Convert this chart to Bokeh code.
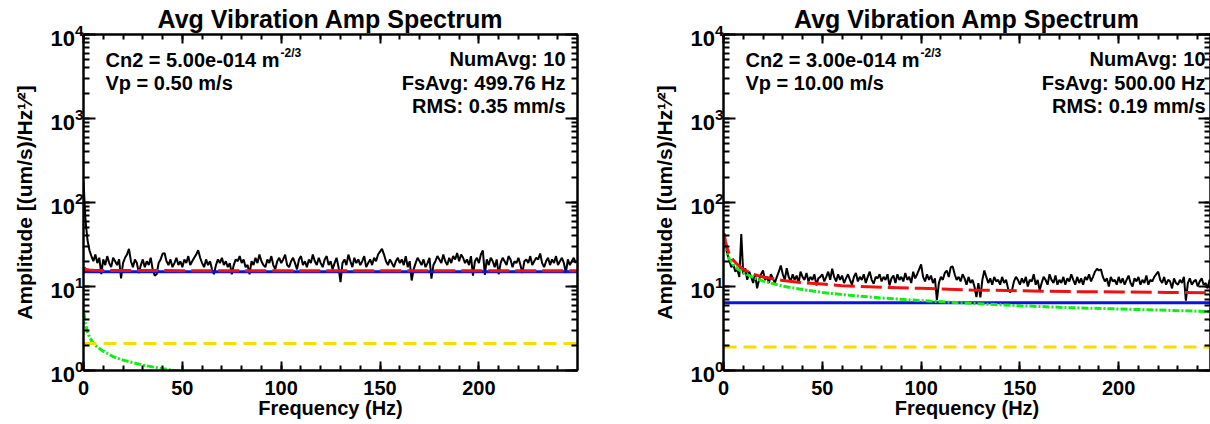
import numpy as np
from bokeh.plotting import figure
from bokeh.models import (Label, LinearAxis, LogAxis, SingleIntervalTicker,
                          LogTicker, Range1d)
from bokeh.layouts import row
from bokeh.embed import file_html
from bokeh.resources import INLINE

# ---------------- data ----------------
freq = list(range(250))  # Hz, 1 Hz bins

left_black = [
    180, 62, 36, 27, 23, 20, 24, 19, 22, 14,
    21, 18, 23, 19, 17, 22, 20, 18, 21, 12.5,
    19, 22, 24, 28, 20, 17, 21, 19, 14.5, 18,
    21, 17, 20, 18, 22, 16, 13.5, 14, 19, 21,
    24.5, 25, 20, 18, 21, 17, 19, 22, 18, 20,
    17, 21, 19, 23, 18, 20, 22, 24, 27, 22,
    19, 17, 21, 18, 20, 16, 14, 18, 21, 19,
    22, 18, 20, 17, 19, 14, 18, 21, 20, 23,
    19, 21, 17, 18, 14, 20, 18, 22, 19, 24,
    20, 18, 17, 21, 19, 23, 18, 16, 20, 22,
    19, 21, 24, 18, 17, 20, 22, 19, 16, 21,
    23, 18, 20, 17, 21, 19, 24, 20, 18, 22,
    19, 17, 21, 23, 18, 20, 16, 19, 22, 17,
    11.3, 19, 21, 18, 24, 20, 17, 22, 19, 21,
    18, 20, 23, 17, 19, 21, 18, 22, 20, 24,
    26, 28, 24, 20, 18, 21, 19, 17, 20, 22,
    19, 21, 18, 23, 17, 20, 11.8, 16, 19, 22,
    20, 18, 21, 17, 19, 22, 12.4, 18, 20, 23,
    21, 19, 24, 20, 18, 22, 19, 23, 21, 25,
    20, 24, 22, 19, 21, 18, 23, 13.5, 20, 22,
    19, 24, 26.8, 13.8, 21, 18, 22, 20, 17, 21,
    14, 19, 22, 20, 18, 23, 21, 17, 20, 19,
    22, 18, 14.5, 20, 21, 19, 23, 18, 20, 22,
    21, 24.7, 19, 17, 20, 22, 18, 21, 19, 23,
    18, 20, 22, 19, 14.5, 21, 18, 20, 22, 19,
]

right_black = [
    38, 30, 24, 20, 17, 18, 15, 16, 13, 42,
    14, 16.5, 12, 15, 13, 11, 14, 9.5, 12, 14,
    15.5, 12, 13, 11, 14, 12.5, 11, 13, 15, 17.8,
    14, 12, 16.5, 13, 11.5, 14, 12, 13.5, 11, 15,
    13, 12, 14.5, 11.5, 13, 12, 14, 10.3, 12.5, 13,
    14, 11.5, 13, 15, 12, 16.3, 13, 11.5, 14, 12,
    13.5, 11, 12.5, 14, 12, 10.5, 13, 14.5, 11.5, 13,
    12, 14, 11, 13, 15, 12, 10.8, 13, 12.5, 14,
    11.5, 13, 12, 14, 10.3, 12.5, 13.5, 11, 14, 12,
    13, 11.5, 14.5, 12, 13, 11, 15, 12.5, 14, 16,
    18.3, 13, 11.5, 14, 12, 13.5, 11, 12.5, 6.9, 11,
    13, 12, 14.5, 15.5, 13, 17, 17.3, 14, 12, 13,
    11.5, 14, 12.5, 10.5, 13, 11, 12, 10, 7.5, 11,
    7.4, 12, 15.5, 13, 11, 12.5, 10.5, 13, 11.5, 12,
    10.5, 13, 11, 12, 9.5, 8.5, 9, 11.5, 13, 12,
    10.5, 12.5, 11, 13, 10, 12, 11.5, 14, 10.5, 12,
    9, 11, 13, 12, 10.5, 14, 12, 11, 13.5, 10.5,
    12, 11, 13, 10.5, 12.5, 11.5, 14, 12, 10.5, 13,
    11, 12.5, 10.5, 13, 12, 14, 11.5, 13, 15, 16.3,
    15.5, 16, 13, 11.5, 12.5, 10, 13, 11.5, 12, 10.5,
    13, 11, 12.5, 10.5, 12, 13.5, 11, 10, 12.5, 11.5,
    13, 10.5, 12, 11, 13.5, 10.5, 12, 11.5, 13, 14,
    15, 12, 11, 13, 10.5, 12, 11.5, 9.5, 12.5, 11,
    10.5, 12, 11, 13, 6.8, 11, 12.5, 10.5, 11.5, 12,
    10, 11.5, 12.5, 10.5, 11, 9.5, 12, 10.5, 11.5, 10,
]

# model curves (read at a few frequencies)
left_red_f = [0.3, 1, 2, 3, 5, 10, 20, 50, 100, 150, 200, 250]
left_red_v = [16.8, 16.1, 15.8, 15.7, 15.6, 15.5, 15.5, 15.45, 15.45, 15.45, 15.45, 15.45]
left_blue_f = [0, 250]
left_blue_v = [15.0, 15.0]
left_green_f = [0.3, 0.5, 1, 2, 3, 5, 7, 10, 15, 20, 30, 40, 50, 60]
left_green_v = [4.8, 4.5, 3.6, 2.9, 2.5, 2.1, 1.9, 1.7, 1.46, 1.33, 1.16, 1.05, 0.97, 0.92]
left_yellow_f = [0, 250]
left_yellow_v = [2.1, 2.1]

right_red_f = [0.3, 1, 2, 3, 5, 7, 10, 15, 20, 30, 40, 50, 60, 80, 100, 125, 150, 175, 200, 225, 250]
right_red_v = [43, 34, 28, 24, 20.5, 18.3, 16, 14, 13, 11.8, 11.1, 10.7, 10.2, 9.8, 9.5, 9.1, 8.9, 8.7, 8.6, 8.5, 8.4]
right_blue_f = [0, 250]
right_blue_v = [6.4, 6.4]
right_green_f = [0.8, 1, 2, 3, 5, 7, 10, 15, 20, 30, 40, 50, 60, 80, 100, 125, 150, 175, 200, 225, 250]
right_green_v = [32, 29, 24.5, 21, 18, 16.3, 14.6, 12.8, 11.6, 10.1, 9.2, 8.5, 8.0, 7.3, 6.8, 6.3, 5.9, 5.6, 5.4, 5.2, 5.0]
right_yellow_f = [0, 250]
right_yellow_v = [1.9, 1.9]

left_fmax = 249.88     # FsAvg/2
right_fmax = 250.0
x_ticks_major = 50
y_lo, y_hi = 1, 1e4

TITLE = "Avg Vibration Amp Spectrum"
XLABEL = "Frequency (Hz)"
YLABEL = "Amplitude [(um/s)/Hz\u00b9\u2044\u00b2]"

# ---------------- styling ----------------
FONT = "Liberation Sans"
H = 424
TOP, BOT = 34, 54
FRAME_TOP, FRAME_BOT = TOP, H - BOT       # canvas pixels
FRAME_W = 494
DECADE = (FRAME_BOT - FRAME_TOP) / 4.0

RED = "#F01010"
BLUE = "#0A14E0"
GREEN = "#11EE11"
YELLOW = "#F8DC00"


def style_axis(ax, labels, major, minor):
    ax.axis_line_width = 2.5
    ax.axis_line_color = "black"
    ax.major_tick_in = major
    ax.major_tick_out = 0
    ax.minor_tick_in = minor
    ax.minor_tick_out = 0
    ax.major_tick_line_width = 2
    ax.minor_tick_line_width = 2
    ax.major_tick_line_color = "black"
    ax.minor_tick_line_color = "black"
    ax.major_label_text_font = FONT
    ax.major_label_text_font_style = "bold"
    ax.major_label_text_font_size = "20px"
    ax.axis_label_text_font = FONT
    ax.axis_label_text_font_style = "bold"
    ax.axis_label_text_color = "black"
    if labels:
        ax.major_label_text_color = "black"
    else:
        ax.major_label_text_color = None
        ax.major_label_standoff = 0


def make_panel(width, border_left, border_right, x_end, pxf, texts,
               black, red, blue, green, yellow):
    p = figure(width=width, height=H, title=TITLE,
               x_range=Range1d(0, x_end), y_range=Range1d(y_lo, y_hi),
               y_axis_type="log", output_backend="svg", toolbar_location=None,
               min_border_left=border_left, min_border_right=border_right,
               min_border_top=TOP, min_border_bottom=BOT,
               background_fill_color="white", border_fill_color="white")
    p.outline_line_color = None
    p.xgrid.visible = False
    p.ygrid.visible = False

    p.title.text_font = FONT
    p.title.text_font_size = "25px"
    p.title.text_font_style = "bold"
    p.title.text_color = "black"
    p.title.align = "center"
    p.title.standoff = 4

    xb = p.xaxis[0]
    xb.ticker = SingleIntervalTicker(interval=x_ticks_major, num_minor_ticks=5)
    style_axis(xb, True, 9, 5)
    xb.major_label_standoff = 10
    xb.axis_label = XLABEL
    xb.axis_label_text_font_size = "20px"
    xb.axis_label_standoff = -1

    yl = p.yaxis[0]
    yl.ticker = LogTicker(num_minor_ticks=10)
    style_axis(yl, True, 12, 6)
    yl.major_label_text_font_size = "22px"
    yl.major_label_standoff = 0
    yl.axis_label = YLABEL
    yl.axis_label_text_font_size = "21px"
    yl.axis_label_standoff = 11

    xt = LinearAxis(ticker=SingleIntervalTicker(interval=x_ticks_major, num_minor_ticks=5))
    style_axis(xt, False, 9, 5)
    p.add_layout(xt, "above")
    yr = LogAxis(ticker=LogTicker(num_minor_ticks=10))
    style_axis(yr, False, 12, 6)
    p.add_layout(yr, "right")

    # curves
    p.line(freq, black, line_color="black", line_width=2)
    p.line(blue[0], blue[1], line_color=BLUE, line_width=3)
    p.line(green[0], green[1], line_color=GREEN, line_width=3, line_dash="7 2 2 2")
    p.line(red[0], red[1], line_color=RED, line_width=3, line_dash="21 6")
    p.line(yellow[0], yellow[1], line_color=YELLOW, line_width=3, line_dash="13 7")

    fl = border_left  # frame left, canvas px

    def lab(xp, yp, text, size, align):
        # (xp, yp): panel canvas px of the text baseline
        yp = yp - 0.36 * size
        x = (xp - fl) / pxf
        y = 10 ** ((FRAME_BOT - yp) / DECADE)
        p.add_layout(Label(x=x, y=y, text=text, text_font=FONT,
                           text_font_size=f"{size}px", text_font_style="bold",
                           text_color="black", text_align=align,
                           text_baseline="middle"))

    lab(fl + 22, 66.5, texts["cn2"], 20, "left")
    lab(fl + 22 + 175, 57, "-2/3", 12, "left")
    lab(fl + 22, 90, texts["vp"], 20, "left")
    lab(fl + 482, 66, texts["num"], 20, "right")
    lab(fl + 482, 90, texts["fs"], 20, "right")
    lab(fl + 482, 113, texts["rms"], 20, "right")
    return p


left_texts = {"cn2": "Cn2 = 5.00e-014 m", "vp": "Vp = 0.50 m/s",
              "num": "NumAvg: 10", "fs": "FsAvg: 499.76 Hz", "rms": "RMS: 0.35 mm/s"}
right_texts = {"cn2": "Cn2 = 3.00e-014 m", "vp": "Vp = 10.00 m/s",
               "num": "NumAvg: 10", "fs": "FsAvg: 500.00 Hz", "rms": "RMS: 0.19 mm/s"}

pxf = FRAME_W / left_fmax
p1 = make_panel(648, 83, 71, left_fmax, pxf, left_texts, left_black,
                (left_red_f, left_red_v), (left_blue_f, left_blue_v),
                (left_green_f, left_green_v), (left_yellow_f, left_yellow_v))
# right panel: its frame runs past the window edge in the reference; show what fits
p2 = make_panel(562, 75, 0, 487 / (FRAME_W / right_fmax), FRAME_W / right_fmax,
                right_texts, right_black,
                (right_red_f, right_red_v), (right_blue_f, right_blue_v),
                (right_green_f, right_green_v), (right_yellow_f, right_yellow_v))

layout = row(p1, p2)
open("out.html", "w").write(file_html(layout, INLINE))
